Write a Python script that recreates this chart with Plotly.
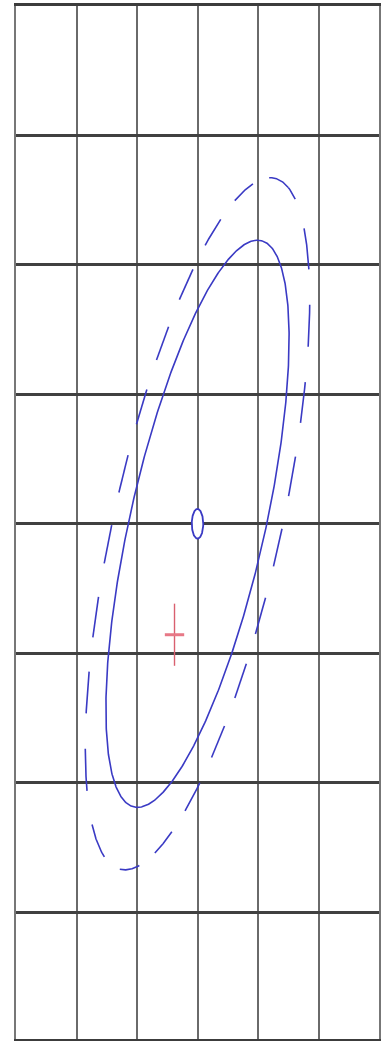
import numpy as np
import plotly.graph_objects as go

# ---- data ----
center = [0.0, 0.0]                 # mean of the distribution
inner_axes = [2.46, 1.02]           # semi-axes of solid ellipse (major, minor)
outer_axes = [3.00, 1.26]           # semi-axes of dashed ellipse
angle_deg = 60.0                    # rotation of major axis
marker_axes = [0.095, 0.115]        # small hollow ellipse at the mean
cross_point = [-0.38, -0.857]       # red cross (observed point)
cross_err = [0.16, 0.24]            # half-lengths of cross arms (x, y)

x_ticks = [-3, -2, -1, 0, 1, 2, 3]
y_ticks = [-4, -3, -2, -1, 0, 1, 2, 3, 4]

BLUE = "#3a3ac4"


def ellipse(c, axes, ang, n=721):
    t = np.linspace(0, 2 * np.pi, n)
    th = np.deg2rad(ang)
    a, b = axes
    x = c[0] + a * np.cos(t) * np.cos(th) - b * np.sin(t) * np.sin(th)
    y = c[1] + a * np.cos(t) * np.sin(th) + b * np.sin(t) * np.cos(th)
    return x, y


def dashed(x, y, dash=0.33, gap=0.27):
    seg = np.hypot(np.diff(x), np.diff(y))
    s = np.concatenate([[0], np.cumsum(seg)])
    period = dash + gap
    xs, ys = [], []
    on_prev = True
    for xi, yi, si in zip(x, y, s):
        on = (si % period) < dash
        if on:
            xs.append(xi)
            ys.append(yi)
        elif on_prev:
            xs.append(None)
            ys.append(None)
        on_prev = on
    return xs, ys


fig = go.Figure()

ox, oy = ellipse(center, outer_axes, angle_deg, 3000)
dx, dy = dashed(ox, oy)
fig.add_trace(go.Scatter(x=dx, y=dy, mode="lines",
                         line=dict(color=BLUE, width=1.6),
                         hoverinfo="skip", showlegend=False))

ix, iy = ellipse(center, inner_axes, angle_deg)
fig.add_trace(go.Scatter(x=ix, y=iy, mode="lines",
                         line=dict(color=BLUE, width=1.6),
                         hoverinfo="skip", showlegend=False))

mx, my = ellipse(center, marker_axes, 0)
fig.add_trace(go.Scatter(x=mx, y=my, mode="lines", fill="toself",
                         fillcolor="white",
                         line=dict(color=BLUE, width=1.8),
                         hoverinfo="skip", showlegend=False))

fig.add_trace(go.Scatter(
    x=[cross_point[0]], y=[cross_point[1]], mode="markers",
    marker=dict(size=1, color="rgba(0,0,0,0)"),
    error_x=dict(type="constant", value=cross_err[0], color="#e77886",
                 thickness=3, width=0),
    error_y=dict(type="constant", value=cross_err[1], color="#d9606f",
                 thickness=1.4, width=0),
    hoverinfo="skip", showlegend=False))

fig.update_layout(
    width=382, height=1041,
    margin=dict(l=16, r=1, t=6, b=2),
    paper_bgcolor="white", plot_bgcolor="white",
    xaxis=dict(range=[x_ticks[0], x_ticks[-1]], tickvals=x_ticks,
               showticklabels=False, ticks="",
               showgrid=True, gridcolor="#6a6a6a", gridwidth=2,
               zeroline=False,
               showline=True, linecolor="#3c3c3c", linewidth=3, mirror=True),
    yaxis=dict(range=[-3.98, 4.0], tickvals=y_ticks,
               showticklabels=False, ticks="",
               showgrid=True, gridcolor="#404040", gridwidth=3,
               zeroline=False,
               showline=True, linecolor="#777777", linewidth=2, mirror=True),
)

fig.write_html("out.html",
               config={"displayModeBar": False},
               post_script="document.body.style.margin='0';"
                           "document.body.style.overflow='hidden';")
